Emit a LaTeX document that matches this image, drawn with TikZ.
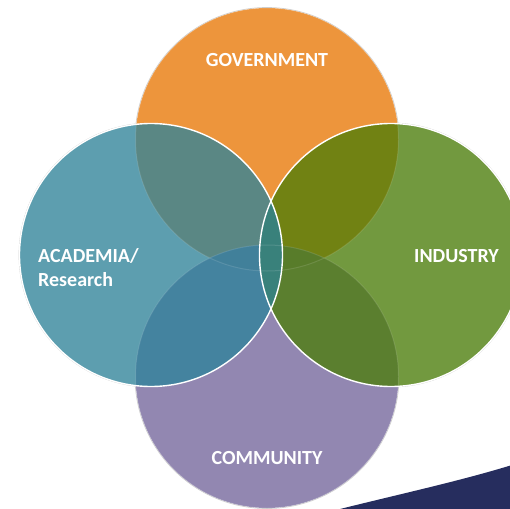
\documentclass[tikz,border=0pt]{standalone}
\usepackage{fontspec}
\setmainfont{Carlito}
\definecolor{cor}{HTML}{ED953C}
\definecolor{cpu}{HTML}{9287B1}
\definecolor{cbl}{HTML}{5D9EAF}
\definecolor{cgr}{HTML}{72993F}
\definecolor{cob}{HTML}{5A8784}
\definecolor{cog}{HTML}{718213}
\definecolor{cpb}{HTML}{44839F}
\definecolor{cpg}{HTML}{5B7F2F}
\definecolor{copb}{HTML}{41809A}
\definecolor{copg}{HTML}{587C2A}
\definecolor{cbg}{HTML}{39817B}
\definecolor{cnavy}{HTML}{262D5E}
\begin{document}
\begin{tikzpicture}[x=1pt,y=-1pt,
  lbl/.style={text=white,font=\bfseries\fontsize{20}{24}\selectfont,inner sep=0pt},
  ring/.style={draw=gray!40,line width=0.7pt}]
\useasboundingbox (0,0) rectangle (510,508);
\def\R{131.5pt}
\coordinate (O) at (267,139.5);
\coordinate (B) at (151,255);
\coordinate (G) at (391,255);
\coordinate (P) at (267,376.5);
% navy swoosh
\fill[cnavy] (336,510) .. controls (400,494) and (460,481) .. (512,465) -- (512,510) -- cycle;
% outer rings
\foreach \c in {O,B,G,P} \draw[ring] (\c) circle[radius=\R+0.5pt];
% base circles
\fill[cor] (O) circle[radius=\R];
\fill[cpu] (P) circle[radius=\R];
\fill[cbl] (B) circle[radius=\R];
\fill[cgr] (G) circle[radius=\R];
% overlaps
\begin{scope}
  \clip (O) circle[radius=\R];
  \fill[cob] (B) circle[radius=\R];
  \fill[cog] (G) circle[radius=\R];
\end{scope}
\begin{scope}
  \clip (P) circle[radius=\R];
  \fill[cpb] (B) circle[radius=\R];
  \fill[cpg] (G) circle[radius=\R];
\end{scope}
\begin{scope}
  \clip (O) circle[radius=\R];
  \clip (P) circle[radius=\R];
  \fill[copb] (B) circle[radius=\R];
  \fill[copg] (G) circle[radius=\R];
\end{scope}
\begin{scope}
  \clip (B) circle[radius=\R];
  \fill[cbg] (G) circle[radius=\R];
\end{scope}
% faint edges of orange and purple
\draw[white,opacity=0.12,line width=1pt] (O) circle[radius=\R];
\draw[white,opacity=0.12,line width=1pt] (P) circle[radius=\R];
% white outlines of blue and green
\draw[white,line width=1.4pt] (B) circle[radius=\R];
\draw[white,line width=1.4pt] (G) circle[radius=\R];
% labels
\node[lbl] (gov) at (267,60) {GOVERNMENT};
\node[lbl,anchor=west,align=left] (aca) at (38,268) {ACADEMIA/\\Research};
\node[lbl,anchor=east] (ind) at (499,256) {INDUSTRY};
\node[lbl] (com) at (267,458) {COMMUNITY};
\end{tikzpicture}
\end{document}
